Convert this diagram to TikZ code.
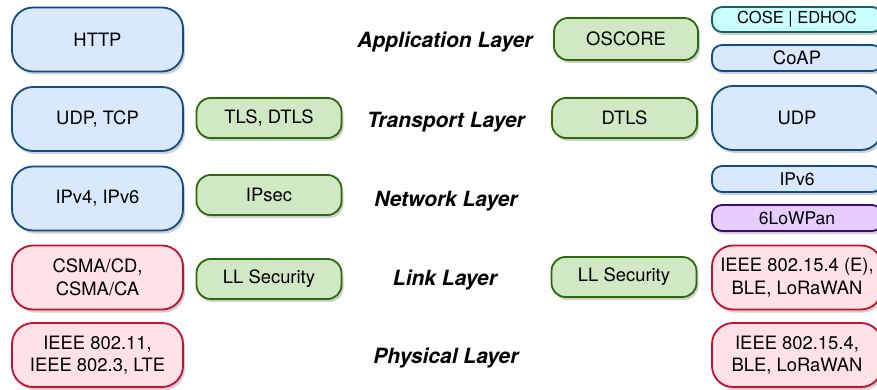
\documentclass[tikz,border=0pt]{standalone}
\usepackage{fontspec}
\setmainfont{TeX Gyre Heros}
\usetikzlibrary{shadows}
\definecolor{bluefill}{HTML}{DAE8FC}
\definecolor{bluedraw}{HTML}{0F4C8A}
\definecolor{greenfill}{HTML}{D0E8C4}
\definecolor{greendraw}{HTML}{2D6A0A}
\definecolor{redfill}{HTML}{FFE2E8}
\definecolor{reddraw}{HTML}{C4122E}
\definecolor{cyanfill}{HTML}{CCFFFF}
\definecolor{cyandraw}{HTML}{0E6660}
\definecolor{purplefill}{HTML}{E6CCFF}
\definecolor{purpledraw}{HTML}{3E0A72}
\tikzset{
  x=1pt, y=-1pt,
  layerbox/.style={rectangle, line width=1.8pt, align=center, inner sep=0pt,
    font=\fontsize{18.4}{22.5}\selectfont,
    drop shadow={shadow xshift=2pt, shadow yshift=-3pt, opacity=0.3, fill=black!60}},
  tall/.style={layerbox, minimum width=171pt, minimum height=64pt, rounded corners=21pt},
  mid/.style={layerbox, minimum width=145pt, minimum height=40pt, rounded corners=14pt},
  thin/.style={layerbox, minimum width=170pt, minimum height=25pt, rounded corners=10pt},
  bluebox/.style={fill=bluefill, draw=bluedraw},
  greenbox/.style={fill=greenfill, draw=greendraw},
  redbox/.style={fill=redfill, draw=reddraw},
  cyanbox/.style={fill=cyanfill, draw=cyandraw},
  purplebox/.style={fill=purplefill, draw=purpledraw},
  layerlabel/.style={anchor=base, inner sep=0pt, font=\fontsize{21}{25}\selectfont\bfseries\itshape}
}
\begin{document}
\begin{tikzpicture}
\clip (0,0) rectangle (877,390);
\fill[white] (0,0) rectangle (877,390);

% Internet stack
\node[tall, bluebox] (http) at (97.5,39.5) {HTTP};
\node[tall, bluebox] (udptcp) at (97.5,119) {UDP, TCP};
\node[tall, bluebox] (ip) at (97.5,198.5) {IPv4, IPv6};
\node[tall, redbox] (csma) at (97.5,277.5) {CSMA/CD,\\CSMA/CA};
\node[tall, redbox] (phy) at (97.5,355) {IEEE 802.11,\\IEEE 802.3, LTE};

% Internet security
\node[mid, greenbox] (tls) at (269,118) {TLS, DTLS};
\node[mid, greenbox] (ipsec) at (269,195) {IPsec};
\node[mid, greenbox] (llsecA) at (269,279) {LL Security};

% Layer names, placed on their baselines
\node[layerlabel] (app) at (445,48) {Application Layer};
\node[layerlabel] (trans) at (446,128) {Transport Layer};
\node[layerlabel] (net) at (446,206) {Network Layer};
\node[layerlabel] (link) at (445,285) {Link Layer};
\node[layerlabel] (phys) at (446,363.5) {Physical Layer};

% IoT security
\node[mid, greenbox, minimum width=144pt, minimum height=42pt] (oscore) at (626,39) {OSCORE};
\node[mid, greenbox] (dtls) at (624.5,118) {DTLS};
\node[mid, greenbox] (llsecB) at (624,277) {LL Security};

% IoT stack
\node[thin, cyanbox, font=\fontsize{16.5}{20}\selectfont] (cose) at (797,19.5) {COSE | EDHOC};
\node[thin, bluebox, minimum height=26pt] (coap) at (797,58) {CoAP};
\node[tall, bluebox, minimum width=170pt] (udp) at (797,118) {UDP};
\node[thin, bluebox, minimum height=26pt, font=\fontsize{17.5}{21}\selectfont] (ipv6) at (797,179) {IPv6};
\node[thin, purplebox, minimum height=26pt, font=\fontsize{17.5}{21}\selectfont] (lowpan) at (797,218) {6LoWPan};
\node[tall, redbox, minimum width=170pt] (mac) at (797,277.5) {IEEE 802.15.4 (E),\\BLE, LoRaWAN};
\node[tall, redbox, minimum width=170pt] (radio) at (797,355) {IEEE 802.15.4,\\BLE, LoRaWAN};
\end{tikzpicture}
\end{document}
